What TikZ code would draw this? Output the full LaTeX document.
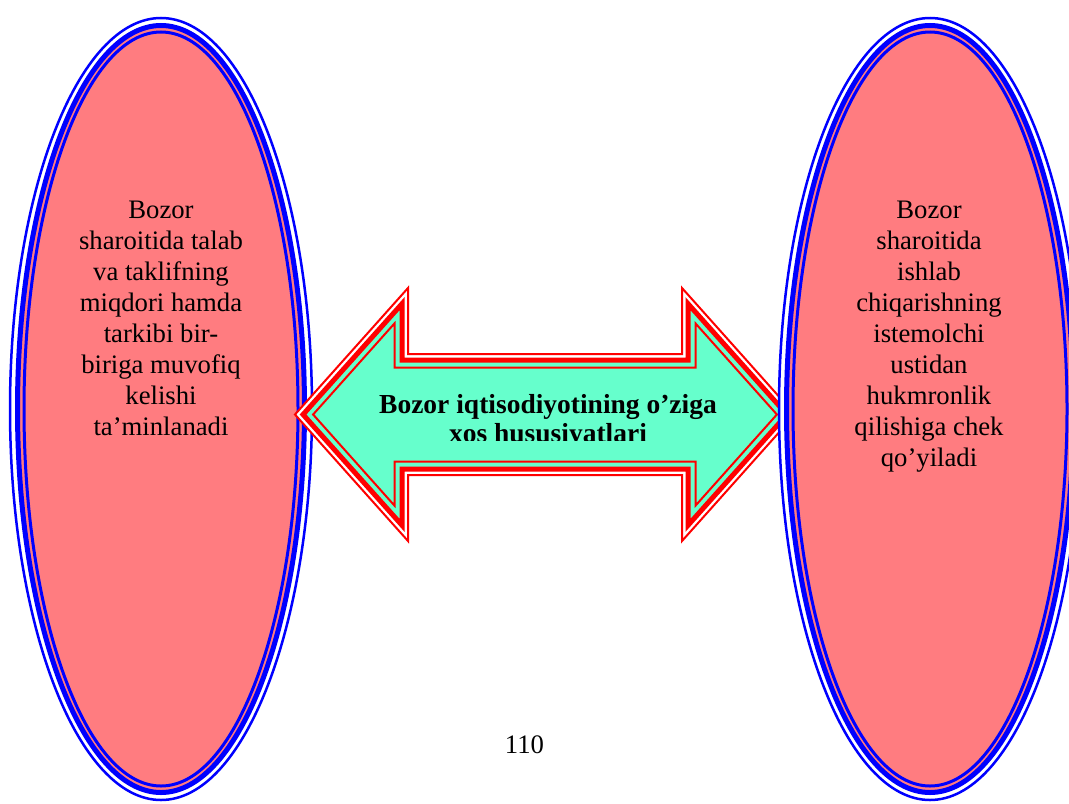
\documentclass[tikz,border=0pt]{standalone}
\usepackage{fontspec}
\setmainfont{Liberation Serif}
\definecolor{aquafill}{RGB}{102,255,204}
\definecolor{pinkfill}{RGB}{255,124,128}
\begin{document}
\begin{tikzpicture}[x=0.5pt,y=-0.5pt,
  ellA/.style={draw=blue, line width=1.25pt, fill=white},
  ellB/.style={draw=blue, line width=2.5pt, fill=pinkfill},
  ellC/.style={draw=blue, line width=1.5pt},
  arrA/.style={draw=red, line width=1pt, fill=white, line join=miter},
  arrB/.style={draw=red, line width=2.5pt, fill=aquafill, line join=miter},
  arrC/.style={draw=red, line width=1pt, line join=miter},
  txt/.style={inner sep=0pt, align=center, font=\fontsize{13.35}{15.5}\selectfont},
  boldtxt/.style={inner sep=0pt, align=center, font=\bfseries\fontsize{13.75}{14.5}\selectfont}]
\useasboundingbox (0,0) rectangle (1069,803);
\clip (0,0) rectangle (1069,803);
% left ellipse (below the arrow)
\draw[ellA] (161,409) ellipse [x radius=151, y radius=391];
\draw[ellB] (161,409) ellipse [x radius=143.5, y radius=383.5];
\draw[ellC] (161,409) ellipse [x radius=137, y radius=377];
% double arrow
\foreach \d/\sty in {0/arrA, 6/arrB, 13.5/arrC}{
  \draw[\sty] ({295+1.341*\d},414.5) -- ({408-\d},{288+2.621*\d}) -- ({408-\d},{354+\d})
    -- ({682+\d},{354+\d}) -- ({682+\d},{288+2.621*\d}) -- ({795-1.341*\d},414.5)
    -- ({682+\d},{541-2.621*\d}) -- ({682+\d},{475-\d}) -- ({408-\d},{475-\d})
    -- ({408-\d},{541-2.621*\d}) -- cycle;
}
\begin{scope}
  \clip (300,380) rectangle (790,440);
  \node[boldtxt, anchor=north] (centertext) at (548,389)
    {\rule{0pt}{12pt}Bozor iqtisodiyotining o’ziga\\xos hususiyatlari};
\end{scope}
% right ellipse (above the arrow)
\draw[ellA] (930,409) ellipse [x radius=151, y radius=391];
\draw[ellB] (930,409) ellipse [x radius=143.5, y radius=383.5];
\draw[ellC] (930,409) ellipse [x radius=137, y radius=377];
% texts
\node[txt, anchor=north] (lefttext) at (161,194)
  {\rule{0pt}{12pt}Bozor\\sharoitida talab\\va taklifning\\miqdori hamda\\tarkibi bir-\\biriga muvofiq\\kelishi\\ta’minlanadi};
\node[txt, anchor=north] (righttext) at (929,194)
  {\rule{0pt}{12pt}Bozor\\sharoitida\\ishlab\\chiqarishning\\istemolchi\\ustidan\\hukmronlik\\qilishiga chek\\qo’yiladi};
\node[txt, anchor=base] (pagenum) at (524.5,753) {110};
\end{tikzpicture}
\end{document}
